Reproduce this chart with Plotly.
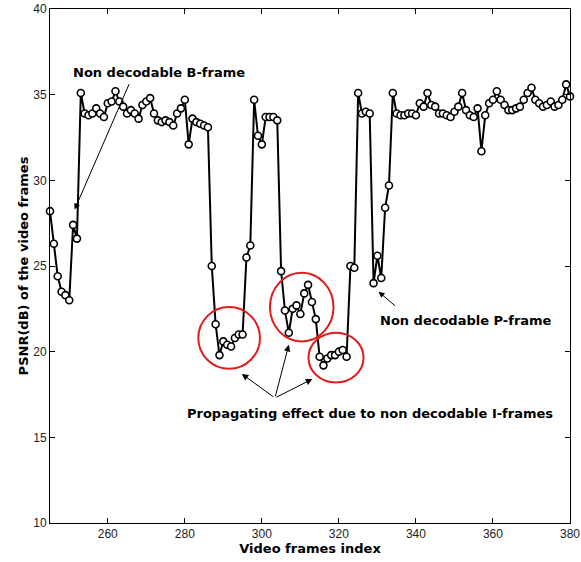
import plotly.graph_objects as go

frames = list(range(245, 381))
psnr = [
    28.2, 26.3, 24.4, 23.5, 23.3, 23.0, 27.4, 26.6, 35.1, 33.9,   # 245-254
    33.8, 33.9, 34.2, 33.9, 33.7, 34.5, 34.6, 35.2, 34.6, 34.3,   # 255-264
    33.9, 34.1, 33.9, 33.6, 34.4, 34.6, 34.8, 33.9, 33.5, 33.4,   # 265-274
    33.5, 33.4, 33.2, 33.9, 34.2, 34.7, 32.1, 33.6, 33.4, 33.3,   # 275-284
    33.2, 33.1, 25.0, 21.6, 19.8, 20.6, 20.4, 20.3, 20.8, 21.0,   # 285-294
    21.0, 25.5, 26.2, 34.7, 32.6, 32.1, 33.7, 33.7, 33.7, 33.5,   # 295-304
    24.7, 22.4, 21.1, 22.5, 22.7, 22.2, 23.4, 23.9, 22.9, 21.9,   # 305-314
    19.7, 19.2, 19.6, 19.8, 19.8, 20.0, 20.1, 19.7, 25.0, 24.9,   # 315-324
    35.1, 33.9, 34.0, 33.9, 24.0, 25.6, 24.3, 28.4, 29.7, 35.1,   # 325-334
    33.9, 33.8, 33.8, 33.9, 33.9, 33.8, 34.5, 34.3, 35.1, 34.4,   # 335-344
    34.3, 33.9, 33.9, 33.8, 33.7, 34.0, 34.3, 35.1, 34.1, 33.8,   # 345-354
    33.7, 34.2, 31.7, 33.8, 34.5, 34.7, 35.2, 34.7, 34.4, 34.1,   # 355-364
    34.1, 34.2, 34.3, 34.7, 35.1, 35.4, 34.7, 34.5, 34.3, 34.4,   # 365-374
    34.6, 34.3, 34.4, 34.7, 35.6, 34.9,                           # 375-380
]

x_ticks = [260, 280, 300, 320, 340, 360, 380]
y_ticks = [10, 15, 20, 25, 30, 35, 40]

label_b = "Non decodable B-frame"
label_p = "Non decodable P-frame"
label_i = "Propagating effect due to non decodable I-frames"

# red ellipses (x0, x1, y0, y1)
ellipses = [
    (283.5, 299.5, 19.0, 22.6),
    (302.1, 318.6, 20.6, 24.6),
    (312.1, 326.4, 18.2, 21.1),
]

fig = go.Figure()
fig.add_trace(go.Scatter(
    x=frames, y=psnr, mode="lines+markers",
    line=dict(color="black", width=2),
    marker=dict(symbol="circle", size=7, color="white",
                line=dict(color="black", width=1.6)),
    showlegend=False, cliponaxis=False,
))

for (x0, x1, y0, y1) in ellipses:
    fig.add_shape(type="circle", xref="x", yref="y", x0=x0, x1=x1, y0=y0, y1=y1,
                  line=dict(color="#e01b1b", width=2))

bold = dict(family="DejaVu Sans, sans-serif", size=13, color="black")

# B-frame
fig.add_annotation(x=273.3, y=36.3, text="<b>%s</b>" % label_b, showarrow=False, font=bold)
fig.add_annotation(x=251.4, y=28.3, ax=265.7, ay=35.7, axref="x", ayref="y",
                   text="", showarrow=True, arrowhead=2, arrowsize=1.2, arrowwidth=1,
                   arrowcolor="black")
# P-frame
fig.add_annotation(x=353.1, y=21.8, text="<b>%s</b>" % label_p, showarrow=False, font=bold)
fig.add_annotation(x=330.3, y=23.5, ax=335.0, ay=22.6, axref="x", ayref="y",
                   text="", showarrow=True, arrowhead=2, arrowsize=1.2, arrowwidth=1,
                   arrowcolor="black")
# I-frames
fig.add_annotation(x=328.0, y=16.4, text="<b>%s</b>" % label_i, showarrow=False, font=bold)
for hx, hy in [(294.8, 18.7), (307.0, 20.4), (313.1, 18.4)]:
    fig.add_annotation(x=hx, y=hy, ax=303.4, ay=17.3, axref="x", ayref="y",
                       text="", showarrow=True, arrowhead=2, arrowsize=1.3, arrowwidth=1,
                       arrowcolor="black")

axis_common = dict(
    showgrid=False, zeroline=False, showline=True, linecolor="black", linewidth=1,
    mirror="ticks", ticks="inside", ticklen=5, tickcolor="black", automargin=False,
    tickfont=dict(family="Liberation Sans, Arial, sans-serif", size=12, color="#222"),
)
fig.update_xaxes(range=[245, 380], tickvals=x_ticks,
                 title=dict(text="<b>Video frames index</b>", font=bold, standoff=2),
                 **axis_common)
fig.update_yaxes(range=[10, 40], tickvals=y_ticks,
                 title=dict(text="<b>PSNR(dB) of the video frames</b>", font=bold, standoff=1),
                 **axis_common)

fig.update_layout(
    width=581, height=562,
    margin=dict(l=50, r=11, t=9, b=39),
    plot_bgcolor="white", paper_bgcolor="white",
)

fig.write_html("out.html",
               config={"displayModeBar": False},
               post_script="document.body.style.margin='0';document.body.style.overflow='hidden';")
